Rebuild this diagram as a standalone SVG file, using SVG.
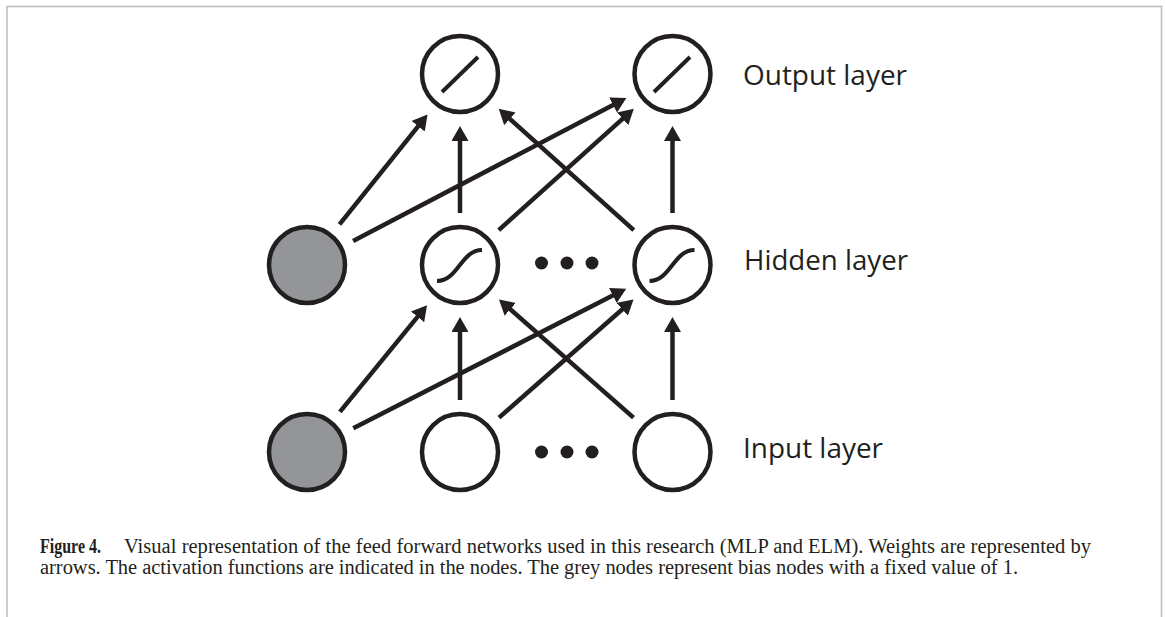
<svg xmlns="http://www.w3.org/2000/svg" width="1166" height="617" viewBox="0 0 1166 617">
<style>
.node{fill:#fff;stroke:#231f20;stroke-width:4.5}
.bias{fill:#939598;stroke:#231f20;stroke-width:4.5}
.fn{fill:none;stroke:#231f20;stroke-width:4}
.conn line{stroke:#231f20;stroke-width:4.5;marker-end:url(#ah)}
.dot{fill:#231f20}
.lab{font-family:"Open Sans","Noto Sans",sans-serif;font-size:28px;fill:#231f20}
.cap{font-family:"Liberation Serif","Times New Roman",serif;font-size:20.5px;fill:#231f20}
</style>
<defs>
<marker id="ah" markerUnits="userSpaceOnUse" markerWidth="16" markerHeight="18" refX="7" refY="8.5" orient="auto"><path d="M0,0 L15,8.5 L0,17 Z" fill="#231f20"/></marker>
</defs>
<rect width="1166" height="617" fill="#fff"/>
<path d="M7,617 V6.5 H1161.5 V617" fill="none" stroke="#bcbcbc" stroke-width="1.5"/>
<g id="connectors" class="conn">
<line x1="339.5" y1="224.4" x2="422.5" y2="120.8"/>
<line x1="353.1" y1="240.9" x2="619.3" y2="101.8"/>
<line x1="460" y1="213" x2="460" y2="134"/>
<line x1="498.7" y1="230.2" x2="627.85" y2="114.15"/>
<line x1="633.8" y1="230.2" x2="504.65" y2="114.15"/>
<line x1="672.5" y1="213" x2="672.5" y2="134"/>
<line x1="339.9" y1="411.8" x2="422" y2="311.4"/>
<line x1="353.3" y1="428.3" x2="619.1" y2="292.3"/>
<line x1="460" y1="400" x2="460" y2="325"/>
<line x1="499" y1="417.6" x2="627.5" y2="304.7"/>
<line x1="633.5" y1="417.6" x2="505" y2="304.7"/>
<line x1="672.5" y1="400" x2="672.5" y2="325"/>
</g>
<g id="out1"><circle class="node" cx="460" cy="74" r="38"/><path class="fn" d="M442,92 L478,57"/></g>
<g id="out2"><circle class="node" cx="672.5" cy="74" r="38"/><path class="fn" d="M654,92 L690,57"/></g>
<g id="bias-hidden"><circle class="bias" cx="307" cy="265" r="38"/></g>
<g id="hid1"><circle class="node" cx="460" cy="265" r="38"/><path class="fn" d="M437,281 C458,281 461,250 482,250"/></g>
<g id="hid-dots"><circle class="dot" cx="541.5" cy="263" r="6.5"/><circle class="dot" cx="567" cy="263" r="6.5"/><circle class="dot" cx="592" cy="263" r="6.5"/></g>
<g id="hid2"><circle class="node" cx="672.5" cy="265" r="38"/><path class="fn" d="M649.5,281 C670.5,281 673.5,250 694.5,250"/></g>
<g id="bias-input"><circle class="bias" cx="307" cy="452" r="38"/></g>
<g id="in1"><circle class="node" cx="460" cy="452" r="38"/></g>
<g id="in-dots"><circle class="dot" cx="541.5" cy="452" r="6.5"/><circle class="dot" cx="567" cy="452" r="6.5"/><circle class="dot" cx="592" cy="452" r="6.5"/></g>
<g id="in2"><circle class="node" cx="672.5" cy="452" r="38"/></g>
<g id="labels">
<text class="lab" x="743" y="85" textLength="164" lengthAdjust="spacingAndGlyphs">Output layer</text>
<text class="lab" x="744" y="270" textLength="164" lengthAdjust="spacingAndGlyphs">Hidden layer</text>
<text class="lab" x="743" y="458" textLength="140" lengthAdjust="spacingAndGlyphs">Input layer</text>
</g>
<g id="caption">
<text class="cap" x="40" y="553"><tspan font-weight="bold" textLength="61" lengthAdjust="spacingAndGlyphs">Figure 4.</tspan><tspan x="124" textLength="967" lengthAdjust="spacing">Visual representation of the feed forward networks used in this research (MLP and ELM). Weights are represented by</tspan></text>
<text class="cap" x="40" y="574" textLength="978" lengthAdjust="spacing">arrows. The activation functions are indicated in the nodes. The grey nodes represent bias nodes with a fixed value of 1.</text>
</g>
</svg>
